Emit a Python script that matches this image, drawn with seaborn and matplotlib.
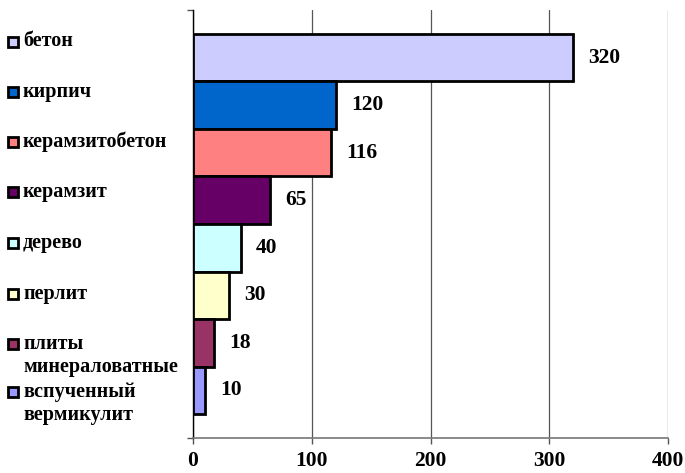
import matplotlib
matplotlib.use("Agg")
import matplotlib.pyplot as plt
from matplotlib.patches import Rectangle
import seaborn as sns
import pandas as pd

# Materials and their values
materials = ["бетон", "кирпич", "керамзитобетон", "керамзит", "дерево",
             "перлит", "плиты\nминераловатные", "вспученный\nвермикулит"]
values = [320, 120, 116, 65, 40, 30, 18, 10]
colors = ["#CCCCFF", "#0066CC", "#FF8080", "#660066", "#CCFFFF",
          "#FFFFCC", "#993366", "#9999FF"]
x_ticks = [0, 100, 200, 300, 400]

df = pd.DataFrame({"material": materials, "value": values})

sns.set_style("white")
plt.rcParams["font.family"] = ["Liberation Serif", "DejaVu Serif"]
plt.rcParams["font.weight"] = "bold"
plt.rcParams["text.color"] = "black"
plt.rcParams["xtick.color"] = "black"

W, H = 685, 473
fig = plt.figure(figsize=(W / 100, H / 100), dpi=100)
ax = fig.add_axes([193 / W, 1 - 438 / H, (668 - 193) / W, (438 - 10) / H])

sns.barplot(data=df, x="value", y="material", hue="material",
            palette=colors, orient="h", width=1.0, legend=False,
            edgecolor="black", linewidth=2, saturation=1, ax=ax, zorder=3)

for cont in ax.containers:
    ax.bar_label(cont, padding=11, fontsize=15.5, fontweight="bold",
                 color="black")

ax.set_xlim(0, 400)
ax.set_xticks(x_ticks)
ax.set_xticklabels([str(t) for t in x_ticks], fontsize=15.5,
                   fontweight="bold", color="black")
ax.set_yticks([-1, 8])
ax.set_yticklabels(["", ""])
ax.set_ylim(8, -1)
ax.set_xlabel("")
ax.set_ylabel("")

ax.grid(axis="x", color="#555555", linewidth=0.9, zorder=0)
ax.grid(axis="y", visible=False)
for side in ("top", "right"):
    ax.spines[side].set_visible(False)
ax.spines["left"].set_color("black")
ax.spines["left"].set_linewidth(1.0)
ax.spines["bottom"].set_color("#777777")
ax.spines["bottom"].set_linewidth(1.2)
ax.tick_params(axis="x", direction="out", length=4, width=1, color="#555555",
               pad=5, bottom=True)
ax.tick_params(axis="y", direction="out", length=4.5, width=1, color="#555555",
               left=True)

# Legend entries on the left side, one text line at a time
entry_y = [42, 92, 142, 192, 243, 294, 344, 392]
line_step = 23.5
sq = 10.5
for name, col, yc in zip(materials, colors, entry_y):
    fig.add_artist(Rectangle((8 / W, 1 - (yc + sq / 2) / H), sq / W, sq / H,
                             transform=fig.transFigure, facecolor=col,
                             edgecolor="black", linewidth=2))
    for i, line in enumerate(name.split("\n")):
        fig.text(23 / W, 1 - (yc + 4.5 + i * line_step) / H, line,
                 fontsize=14.5, fontweight="bold", color="black",
                 ha="left", va="baseline")

fig.savefig("out.png", dpi=100)
